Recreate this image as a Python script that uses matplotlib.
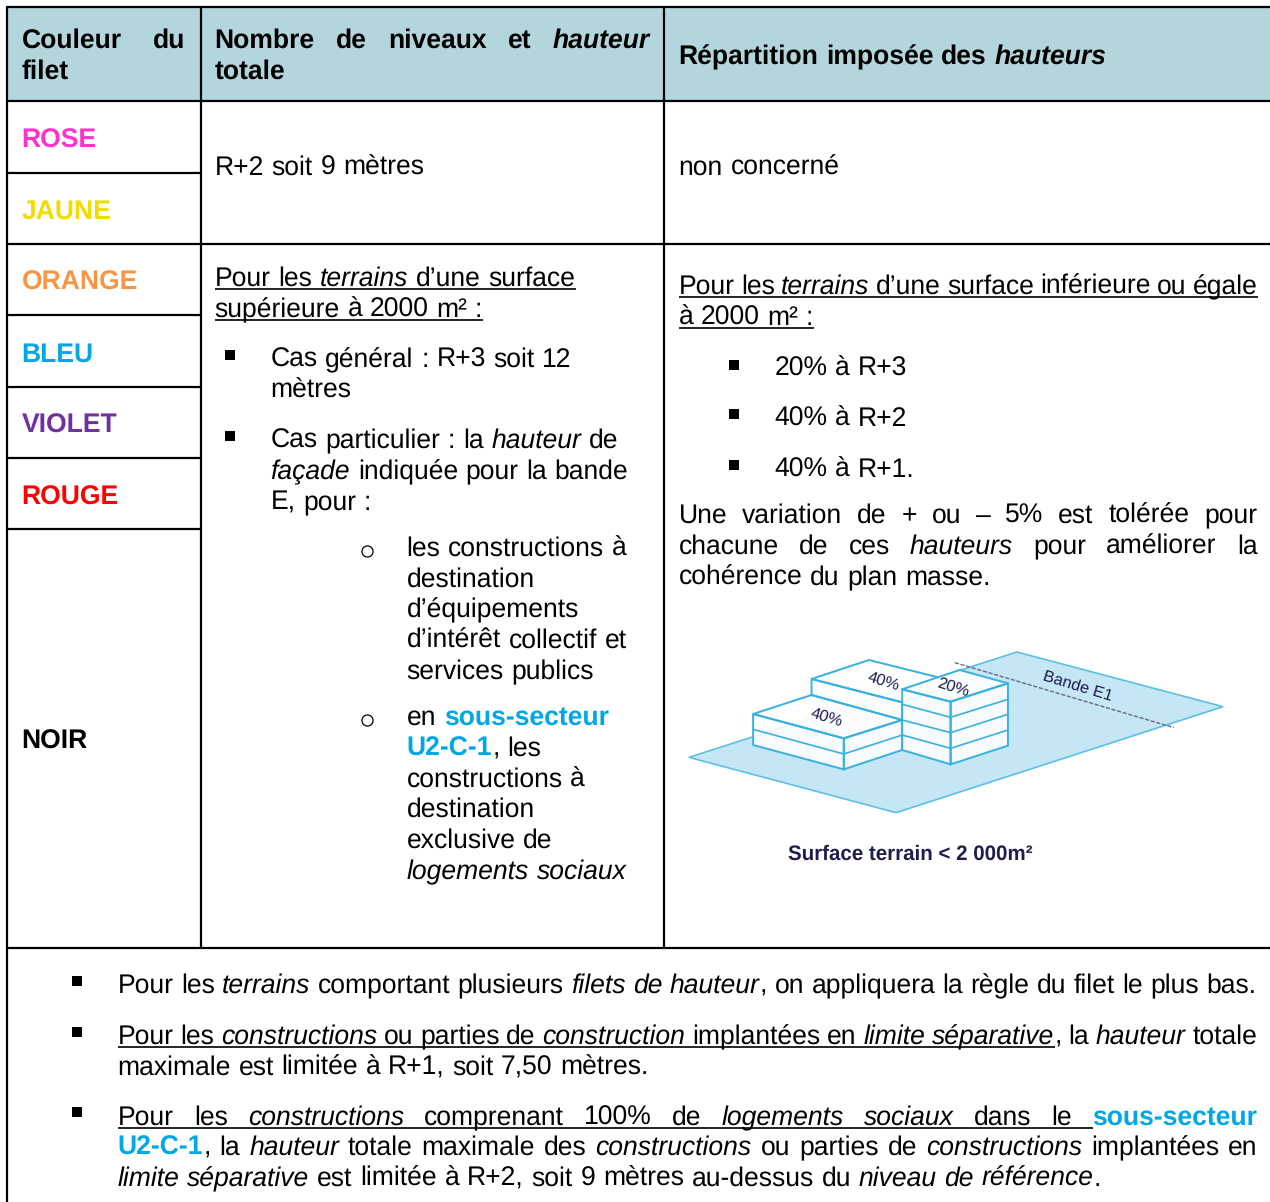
import re
import matplotlib
matplotlib.use('Agg')
import matplotlib.pyplot as plt
from matplotlib.patches import Polygon

plt.rcParams['font.family'] = ['Liberation Sans', 'DejaVu Sans']
plt.rcParams['text.hinting'] = 'no_hinting'

W, H = 1270, 1202
FS = 19.1
BLUE = '#00a7e6'
LINE = '#38b1e0'
NAVY = '#1d1d50'

filet_names = ['ROSE', 'JAUNE', 'ORANGE', 'BLEU', 'VIOLET', 'ROUGE', 'NOIR']
filet_colors = ['#ff33cc', '#f2dc00', '#f79646', '#00a7e6', '#7030a0', '#ff0000', '#000000']
filet_base = [148, 219, 290, 362, 433, 505, 749]

# each line: baseline, x start, right edge for justified text (None = natural), runs
# run flags: b bold, i italic, u underline, c blue
lines = [
    (48, 22, 186, [('Couleur du', 'b')]),
    (79, 22, None, [('filet', 'b')]),
    (48, 215, 650, [('Nombre de niveaux et ', 'b'), ('hauteur', 'bi')]),
    (79, 215, None, [('totale', 'b')]),
    (64, 679, None, [('Répartition imposée des ', 'b'), ('hauteurs', 'bi')]),
    (175, 215, None, [('R+2 soit 9 mètres', '')]),
    (175, 679, None, [('non concerné', '')]),
    # colonne 2
    (286, 215, None, [('Pour les ', 'u'), ('terrains', 'iu'), (' d’une surface', 'u')]),
    (317, 215, None, [('supérieure à 2000 m² :', 'u')]),
    (367, 271, None, [('Cas général : R+3 soit 12', '')]),
    (398, 271, None, [('mètres', '')]),
    (448, 271, None, [('Cas particulier : la ', ''), ('hauteur', 'i'), (' de', '')]),
    (479, 271, None, [('façade', 'i'), (' indiquée pour la bande', '')]),
    (510, 271, None, [('E, pour :', '')]),
    (556, 407, None, [('les constructions à', '')]),
    (587, 407, None, [('destination', '')]),
    (617, 407, None, [('d’équipements', '')]),
    (648, 407, None, [('d’intérêt collectif et', '')]),
    (679, 407, None, [('services publics', '')]),
    (725, 407, None, [('en ', ''), ('sous-secteur', 'bc')]),
    (756, 407, None, [('U2-C-1', 'bc'), (', les', '')]),
    (787, 407, None, [('constructions à', '')]),
    (817, 407, None, [('destination', '')]),
    (848, 407, None, [('exclusive de', '')]),
    (879, 407, None, [('logements sociaux', 'i')]),
    # colonne 3
    (294, 679, 1258, [('Pour les ', 'u'), ('terrains', 'iu'), (' d’une surface inférieure ou égale', 'u')]),
    (325, 679, None, [('à 2000 m² :', 'u')]),
    (376, 775, None, [('20% à R+3', '')]),
    (426, 775, None, [('40% à R+2', '')]),
    (477, 775, None, [('40% à R+1.', '')]),
    (523, 679, 1258, [('Une variation de + ou – 5% est tolérée pour', '')]),
    (554, 679, 1258, [('chacune de ces ', ''), ('hauteurs', 'i'), (' pour améliorer la', '')]),
    (585, 679, None, [('cohérence du plan masse.', '')]),
    # bas de page
    (993, 118, 1257, [('Pour les ', ''), ('terrains', 'i'), (' comportant plusieurs ', ''), ('filets de hauteur', 'i'),
                      (', on appliquera la règle du filet le plus bas.', '')]),
    (1044, 118, 1258, [('Pour les ', 'u'), ('constructions', 'iu'), (' ou parties de ', 'u'), ('construction', 'iu'),
                       (' implantées en ', 'u'), ('limite séparative', 'iu'), (', la ', ''), ('hauteur', 'i'),
                       (' totale', '')]),
    (1075, 118, 649, [('maximale est limitée à R+1, soit 7,50 mètres.', '')]),
    (1125, 118, 1258, [('Pour les ', 'u'), ('constructions', 'iu'), (' comprenant 100% de ', 'u'),
                       ('logements sociaux', 'iu'), (' dans le ', 'u'), ('sous-secteur', 'bc')]),
    (1155, 118, 1258, [('U2-C-1', 'bc'), (', la ', ''), ('hauteur', 'i'), (' totale maximale des ', ''),
                       ('constructions', 'i'), (' ou parties de ', ''), ('constructions', 'i'),
                       (' implantées en', '')]),
    (1186, 118, 1102, [('limite séparative', 'i'), (' est limitée à R+2, soit 9 mètres au-dessus du ', ''),
                       ('niveau de référence', 'i'), ('.', '')]),
]

square_bullets = [(230, 355), (230, 436), (734, 365), (734, 414), (734, 465), (77, 981), (77, 1032), (77, 1112)]
round_bullets = [(367, 551), (367, 720)]

fig = plt.figure(figsize=(W / 100, H / 100), dpi=100)
ax = fig.add_axes([0, 0, 1, 1])
ax.set_xlim(0, W)
ax.set_ylim(H, 0)
ax.axis('off')
rend = fig.canvas.get_renderer()


def put_word(x, y, word, flags, draw=True):
    t = ax.text(x - 0.4, y, word, fontsize=FS, va='baseline', ha='left',
                fontweight='bold' if 'b' in flags else 'normal',
                fontstyle='italic' if 'i' in flags else 'normal',
                color=BLUE if 'c' in flags else 'black')
    w = t.get_window_extent(rend).width + 0.25
    if not draw:
        t.remove()
    return w


def put_line(y, x0, x1, runs):
    space = 0.278 * FS / 0.72
    tokens = []
    for text, flags in runs:
        for tok in re.split(r'(\s+)', text):
            if tok:
                tokens.append((tok, flags))
    total = 0
    gaps = 0
    for tok, flags in tokens:
        if tok.isspace():
            total += space
            gaps += 1
        else:
            total += put_word(0, y, tok, flags, draw=False)
    extra = (x1 - x0 - total) / gaps if x1 is not None and gaps else 0
    x = x0
    for tok, flags in tokens:
        if tok.isspace():
            w = space + extra
        else:
            w = put_word(x, y, tok, flags)
        if 'u' in flags:
            ax.plot([x, x + w], [y + 3, y + 3], color='black', lw=1.2, solid_capstyle='butt')
        x += w


# en-tete et grille
ax.fill_between([7, W], 7, 101, color='#b2d6dc', lw=0, zorder=0)
for x in (201, 664):
    ax.plot([x, x], [7, 948], color='black', lw=1.6, solid_capstyle='butt')
ax.plot([7, 7], [7, H], color='black', lw=1.6, solid_capstyle='butt')
for y in (7, 101, 244, 948):
    ax.plot([6, W], [y, y], color='black', lw=1.6, solid_capstyle='butt')
for y in (173, 315, 387, 458, 529):
    ax.plot([7, 201], [y, y], color='black', lw=1.6, solid_capstyle='butt')

for name, col, y in zip(filet_names, filet_colors, filet_base):
    ax.text(21.6, y, name, color=col, fontsize=FS, fontweight='bold', va='baseline')

for y, x0, x1, runs in lines:
    put_line(y, x0, x1, runs)

for x, y in square_bullets:
    ax.plot(x, y, marker='s', ms=7, color='black', mew=0)
for x, y in round_bullets:
    ax.plot(x, y, marker='o', ms=8, mfc='white', mec='black', mew=0.9)


# schema : sommets
def zp(pts):
    return [(680 + a / 2.79, 640 + b / 3) for a, b in pts]


def face(pts, fc='white', alpha=0.85, z=3):
    ax.add_patch(Polygon(zp(pts), closed=True, fc=fc, ec='none', alpha=alpha, zorder=z))
    ax.add_patch(Polygon(zp(pts), closed=True, fc='none', ec=LINE, lw=1.4, zorder=z + 0.1))


def seg(pts, z=4):
    p = zp(pts)
    ax.plot([a for a, b in p], [b for a, b in p], color=LINE, lw=1.2, zorder=z)


ground = [(25, 352), (940, 36), (1515, 200), (603, 518)]
ax.add_patch(Polygon(zp(ground), closed=True, fc='#c5e6f4', ec='#5cc0e6', lw=1.2, zorder=2))

face([(367, 117), (527, 60), (780, 128), (620, 187)], alpha=0.92)
face([(367, 117), (620, 187), (620, 240), (367, 165)], alpha=0.92)
face([(204, 222), (367, 165), (620, 240), (457, 295)], alpha=0.92)
face([(204, 222), (457, 295), (457, 388), (204, 315)], alpha=0.88)
face([(457, 295), (620, 240), (620, 330), (457, 388)], alpha=0.88)
seg([(204, 268), (457, 342), (620, 285)])

face([(620, 148), (780, 90), (915, 130), (755, 185)], alpha=0.92, z=5)
face([(620, 148), (755, 185), (755, 373), (620, 330)], alpha=0.88, z=5)
face([(755, 185), (915, 130), (915, 317), (755, 373)], alpha=0.88, z=5)
seg([(620, 193), (755, 232), (915, 178)], z=6)
seg([(620, 240), (755, 278), (915, 223)], z=6)
seg([(620, 285), (755, 325), (915, 270)], z=6)

p = zp([(767, 68), (1378, 263)])
ax.plot([p[0][0], p[1][0]], [p[0][1], p[1][1]], color='#6a6a80', lw=1, ls=(0, (3, 1.2)), zorder=7)

shares = ['40%', '20%', '40%']
share_pos = zp([(568, 125), (762, 143), (410, 232)])
for s, (x, y) in zip(shares, share_pos):
    ax.text(x, y, s, color=NAVY, fontsize=11.8, rotation=-17, ha='center', va='center', zorder=8,
            rotation_mode='anchor')
x, y = zp([(1110, 138)])[0]
ax.text(x, y, 'Bande E1', color=NAVY, fontsize=11.8, rotation=-17, ha='center', va='center', zorder=8,
        rotation_mode='anchor')
ax.text(910, 854, 'Surface terrain < 2 000m²', color=NAVY, fontsize=14.8, fontweight='bold',
        ha='center', va='center')

fig.savefig('out.png', dpi=100)
